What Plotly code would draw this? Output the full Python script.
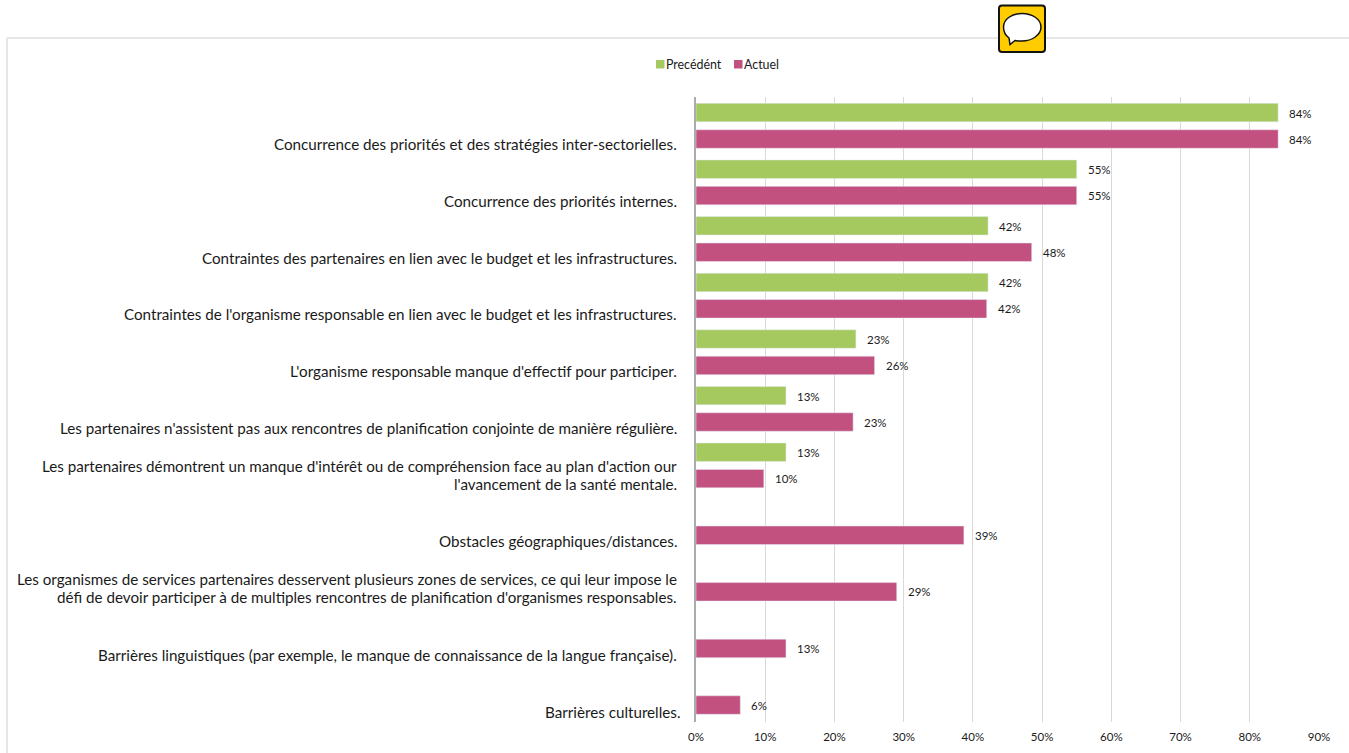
import plotly.graph_objects as go

W, H = 1349, 753
PL, PR, PT, PB = 696, 1319, 97, 722

categories = [
    "Concurrence des priorités et des stratégies inter-sectorielles.",
    "Concurrence des priorités internes.",
    "Contraintes des partenaires en lien avec le budget et les infrastructures.",
    "Contraintes de l'organisme responsable en lien avec le budget et les infrastructures.",
    "L'organisme responsable manque d'effectif pour participer.",
    "Les partenaires n'assistent pas aux rencontres de planification conjointe de manière régulière.",
    "Les partenaires démontrent un manque d'intérêt ou de compréhension face au plan d'action our<br>l'avancement de la santé mentale.",
    "Obstacles géographiques/distances.",
    "Les organismes de services partenaires desservent plusieurs zones de services, ce qui leur impose le<br>défi de devoir participer à de multiples rencontres de planification d'organismes responsables.",
    "Barrières linguistiques (par exemple, le manque de connaissance de la langue française).",
    "Barrières culturelles.",
]
series_names = ["Precédént", "Actuel"]
precedent = [84.1, 55.0, 42.2, 42.2, 23.1, 13.0, 13.0, None, None, None, None]
actuel = [84.1, 55.0, 48.5, 42.0, 25.8, 22.7, 9.8, 38.7, 29.0, 13.0, 6.4]
labels_precedent = ["84%", "55%", "42%", "42%", "23%", "13%", "13%", "", "", "", ""]
labels_actuel = ["84%", "55%", "48%", "42%", "26%", "23%", "10%", "39%", "29%", "13%", "6%"]
x_ticks = list(range(0, 100, 10))
label_yshift = [-18.1, -18.4, -18.7, -18.7, -19.0, -18.8, -0.6, -18.6, -0.5, -19.4, -19.9]
label_xshift = [-17, -17, -17, -17, -17, -17, -17, -17, -17, -17, -14]
LINE_GAP = 18

FONT = "Lato, Carlito, Calibri, sans-serif"
GREEN, PINK = "#A6C95F", "#C25180"
TXT = "#1a1a1a"


def px(x):
    return (x - PL) / (PR - PL)


def py(y):
    return (PB - y) / (PB - PT)


def path(pts):
    out = []
    for cmd, *c in pts:
        s = cmd
        s += ",".join(
            f"{px(c[i]) if i % 2 == 0 else py(c[i]):.5f}" for i in range(len(c))
        )
        out.append(s)
    return " ".join(out)


fig = go.Figure()
fig.add_bar(name=series_names[0], y=categories, x=precedent, orientation="h", marker_color=GREEN, cliponaxis=False, showlegend=False)
fig.add_bar(name=series_names[1], y=categories, x=actuel, orientation="h", marker_color=PINK, cliponaxis=False, showlegend=False)

annotations = []
for c, ys, xs in zip(categories, label_yshift, label_xshift):
    for k, line in enumerate(c.split("<br>")):
        annotations.append(dict(
            x=0, y=c, xref="x", yref="y", text=line, showarrow=False, xanchor="right", align="right",
            xshift=xs, yshift=ys - k * LINE_GAP, font=dict(family=FONT, size=15.2, color=TXT),
        ))
for vals, labs, dy in ((precedent, labels_precedent, 12.8), (actuel, labels_actuel, -13.2)):
    for c, v, l in zip(categories, vals, labs):
        if v is None:
            continue
        annotations.append(dict(
            x=v, y=c, xref="x", yref="y", text=l, showarrow=False, xanchor="left",
            xshift=9, yshift=dy, font=dict(family=FONT, size=11.5, color=TXT),
        ))
for name, tx in zip(series_names, (664, 742)):
    annotations.append(dict(x=px(tx), y=py(64), xref="paper", yref="paper", text=name, showarrow=False,
                            xanchor="left", yanchor="middle", font=dict(family=FONT, size=12.4, color=TXT)))

shapes = [
    dict(type="rect", xref="paper", yref="paper", x0=px(656), x1=px(664.5), y0=py(60), y1=py(68.5), fillcolor=GREEN, line_width=0),
    dict(type="rect", xref="paper", yref="paper", x0=px(734), x1=px(742.5), y0=py(60), y1=py(68.5), fillcolor=PINK, line_width=0),
    dict(type="line", xref="paper", yref="paper", x0=px(7), x1=px(7), y0=py(38), y1=py(753), line=dict(color="#E6E6E6", width=2)),
    dict(type="line", xref="paper", yref="paper", x0=px(7), x1=px(1349), y0=py(38), y1=py(38), line=dict(color="#E6E6E6", width=2)),
    dict(type="path", xref="paper", yref="paper", fillcolor="#FFCC00", line=dict(color="#111111", width=2),
         path=path([("M", 1002, 5.5), ("L", 1042, 5.5), ("Q", 1045, 5.5, 1045, 8.5), ("L", 1045, 49), ("Q", 1045, 52, 1042, 52),
                    ("L", 1002, 52), ("Q", 999, 52, 999, 49), ("L", 999, 8.5), ("Q", 999, 5.5, 1002, 5.5), ("Z",)])),
    dict(type="path", xref="paper", yref="paper", fillcolor="#FFFFFF", line=dict(color="#111111", width=1.5),
         path=path([("M", 1009, 38), ("C", 1005, 35, 1003.5, 31, 1003.5, 27), ("C", 1003.5, 19, 1012, 13.5, 1022, 13.5),
                    ("C", 1032, 13.5, 1041, 19, 1041, 27), ("C", 1041, 35, 1032, 41, 1022, 41),
                    ("C", 1019, 41, 1017, 41, 1015, 40.5), ("L", 1010, 44.5), ("L", 1009, 38), ("Z",)])),
]

fig.update_layout(
    width=W, height=H, autosize=False,
    margin=dict(l=PL, r=W - PR, t=PT, b=H - PB, pad=0, autoexpand=False),
    paper_bgcolor="white", plot_bgcolor="white",
    barmode="group", bargap=0.067, bargroupgap=0.3,
    font=dict(family=FONT, size=12, color=TXT),
    showlegend=False,
    annotations=annotations, shapes=shapes,
    xaxis=dict(range=[0, 90], tickvals=x_ticks, ticktext=[f"{t}%" for t in x_ticks], showgrid=True,
               gridcolor="#D9D9D9", gridwidth=1, zeroline=False, showline=False, automargin=False,
               ticks="outside", ticklen=4, tickcolor="rgba(0,0,0,0)",
               tickfont=dict(family=FONT, size=11.5, color=TXT)),
    yaxis=dict(range=[10.533, -0.509], type="category", categoryorder="array", categoryarray=categories,
               showticklabels=False, ticks="", showgrid=False, zeroline=False, automargin=False,
               showline=True, linecolor="#ABABAB", linewidth=2),
)
fig.write_html("out.html", config={"displayModeBar": False},
               post_script="document.body.style.margin='0';document.documentElement.style.overflow='hidden';")
